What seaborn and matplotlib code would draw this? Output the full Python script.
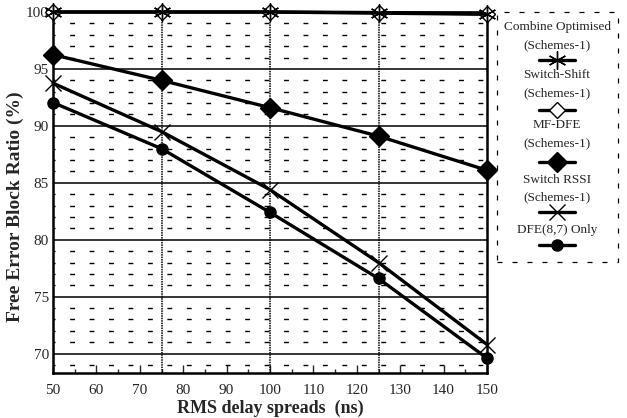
import matplotlib
matplotlib.use("Agg")
import matplotlib.pyplot as plt
import seaborn as sns
import numpy as np
import pandas as pd
from matplotlib.lines import Line2D
from matplotlib.patches import Rectangle

sns.set_theme(style="white")
plt.rcParams['font.family'] = ['Liberation Serif', 'DejaVu Serif']

delay = [50, 75, 100, 125, 150]
combine_opt = [100.0, 100.0, 100.0, 99.9, 99.8]
switch_shift = [100.0, 100.0, 100.0, 99.95, 99.85]
mf_dfe = [96.25, 94.0, 91.6, 89.1, 86.1]
switch_rssi = [93.75, 89.5, 84.4, 78.0, 70.8]
dfe_only = [92.05, 88.0, 82.4, 76.6, 69.6]

labels = ["Combine Optimised\n(Schemes-1)", "Switch-Shift\n(Schemes-1)",
          "MF-DFE\n(Schemes-1)", "Switch RSSI\n(Schemes-1)", "DFE(8,7) Only"]
xticks = [50, 60, 70, 80, 90, 100, 110, 120, 130, 140, 150]
yticks = [70, 75, 80, 85, 90, 95, 100]

series = [combine_opt, switch_shift, mf_dfe, switch_rssi, dfe_only]
styles = [
    dict(marker=(6, 2, 0), markersize=13, markeredgewidth=1.0, markerfacecolor='black'),
    dict(marker='D', markersize=8, markeredgewidth=1.0, markerfacecolor='white'),
    dict(marker='D', markersize=10, markeredgewidth=1.0, markerfacecolor='black'),
    dict(marker='x', markersize=12, markeredgewidth=1.0, markerfacecolor='black'),
    dict(marker='o', markersize=8, markeredgewidth=1.0, markerfacecolor='black'),
]
zorders = [5, 4, 3, 3, 3]

W, H = 627, 418
fig = plt.figure(figsize=(W / 100, H / 100), dpi=100)
ax = fig.add_axes([53 / W, 1 - 373 / H, (487 - 53) / W, (373 - 12) / H])

# grid
for yv in range(69, 100):
    if yv % 5 == 0:
        ax.axhline(yv, color='black', lw=1.1, zorder=1)
    else:
        ax.axhline(yv, color='black', lw=1.0, ls=(2, (3.5, 10.5)), zorder=1)
for xv in [75, 100, 125]:
    ax.axvline(xv, color='black', lw=1.1, ls=(0, (1, 0.6)), zorder=1)

for vals, st, z in zip(series, styles, zorders):
    sns.lineplot(x=delay, y=vals, ax=ax, color='black', linewidth=2.4,
                 markeredgecolor='black', clip_on=False, zorder=z, **st)

ax.set_xlim(50, 150)
ax.set_ylim(68.3, 100)
ax.set_xticks(xticks)
ax.set_xticks(list(range(55, 150, 10)), minor=True)
ax.set_yticks(yticks)
ax.tick_params(axis='x', which='major', direction='in', length=6, width=1, pad=8,
               labelsize=11, bottom=True)
ax.tick_params(axis='x', which='minor', direction='in', length=3, width=1, bottom=True)
ax.tick_params(axis='y', which='major', length=0, pad=3, labelsize=11)
for s in ax.spines.values():
    s.set_color('black')
    s.set_linewidth(1.8)
ax.spines['top'].set_linewidth(1.2)
ax.set_xlabel("RMS delay spreads  (ns)", fontsize=13, fontweight='bold', labelpad=2)
ax.set_ylabel("Free Error Block Ratio (%)", fontsize=14, fontweight='bold')
ax.yaxis.set_label_coords(-0.067, 0.46)

# legend box
def fx(px):
    return px / W

def fy(py):
    return 1 - py / H

rect = Rectangle((fx(497), fy(262)), fx(618) - fx(497), fy(12) - fy(262),
                 transform=fig.transFigure, fill=False, edgecolor='black',
                 lw=0.9, ls=(0, (4, 8)))
fig.add_artist(rect)

text_y = [(27, 45), (75, 93), (125, 143), (180, 197), (230,)]
marker_y = [60, 110, 162, 212, 245]
cx = 557
for lab, ty, my, st in zip(labels, text_y, marker_y, styles):
    for line_text, yy in zip(lab.split("\n"), ty):
        fig.text(fx(cx), fy(yy), line_text, ha='center', va='center', fontsize=9.5)
    ln = Line2D([fx(539), fx(575)], [fy(my), fy(my)], transform=fig.transFigure,
                color='black', lw=2.4)
    fig.add_artist(ln)
    mk = Line2D([fx(cx)], [fy(my)], transform=fig.transFigure, color='black',
                markeredgecolor='black', **st)
    fig.add_artist(mk)

fig.savefig("out.png", dpi=100)
